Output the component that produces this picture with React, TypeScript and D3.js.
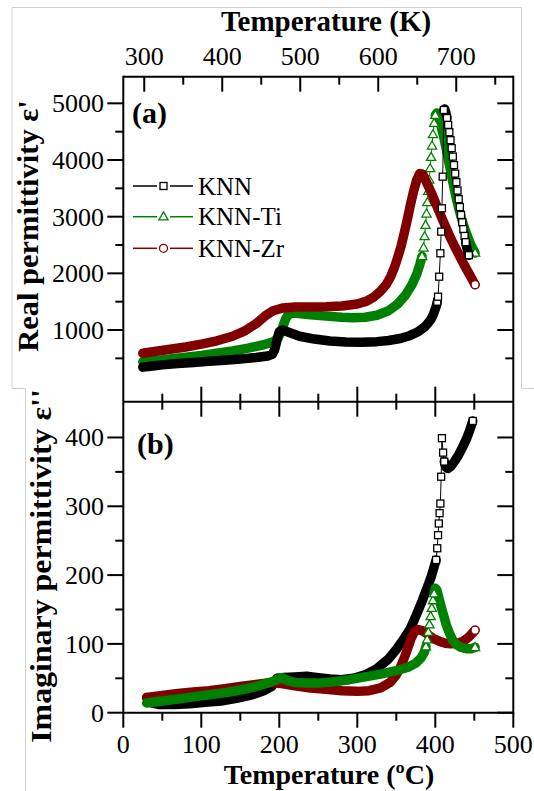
import React from 'react';
import * as d3 from 'd3';

// ---------- data (temperature in °C, permittivity) ----------
const tempTicksC = [0, 100, 200, 300, 400, 500];
const tempTicksK = [300, 400, 500, 600, 700];
const realTicks = [1000, 2000, 3000, 4000, 5000];
const imagTicks = [0, 100, 200, 300, 400];
const seriesNames = ['KNN', 'KNN-Ti', 'KNN-Zr'];

const knnReal: [number, number][] = [
  [25, 345], [35, 362], [50, 385], [70, 408], [90, 428], [110, 448], [130, 468], [150, 490], [170, 515], [185, 540],
  [191, 570], [194, 650], [196, 760], [198, 880], [200, 970], [204, 1000], [212, 960], [226, 890], [245, 840], [265, 805],
  [285, 790], [305, 785], [325, 795], [340, 815], [355, 850], [367, 900], [378, 970], [386, 1050], [390, 1110], [394, 1180],
  [397, 1260], [399, 1330], [401, 1410], [402.5, 1500], [403.5, 1588], [405, 1941], [406.5, 2354], [407.5, 2736], [408.5, 3148], [409.5, 3706],
  [411, 4883], [412, 4900], [413.5, 4840], [415, 4740], [416.5, 4620], [418, 4490], [419.5, 4350], [421, 4210], [422.5, 4060], [424, 3910],
  [425.5, 3760], [427, 3610], [428.5, 3460], [430, 3310], [431.5, 3170], [433, 3030], [434.5, 2900], [436, 2780], [437.5, 2660], [439, 2550],
  [440.5, 2450], [442, 2360], [443, 2320],
];

const tiReal: [number, number][] = [
  [25, 440], [40, 460], [60, 490], [80, 520], [100, 550], [120, 590], [140, 630], [160, 680], [180, 740], [192, 790],
  [198, 850], [202, 960], [205, 1080], [208, 1190], [211, 1260], [216, 1300], [225, 1290], [240, 1270], [260, 1245], [280, 1225],
  [295, 1215], [310, 1225], [325, 1260], [340, 1340], [352, 1460], [362, 1620], [370, 1800], [376, 1980], [380, 2150], [383, 2300],
  [385, 2450], [386.3, 2650], [387.5, 2850], [388.7, 3050], [389.8, 3250], [391, 3450], [392.2, 3650], [393.4, 3850], [394.6, 4050], [395.8, 4250],
  [397, 4450], [398.5, 4650], [400, 4790], [402, 4830], [404, 4760], [407, 4620], [410, 4450], [414, 4200], [418, 3920], [422, 3640],
  [426, 3380], [430, 3150], [434, 2950], [438, 2780], [442, 2630], [446, 2490], [451, 2360],
];

const zrReal: [number, number][] = [
  [25, 590], [40, 620], [60, 660], [80, 700], [100, 750], [120, 810], [140, 890], [155, 980], [170, 1110], [182, 1250],
  [192, 1340], [205, 1390], [220, 1405], [240, 1405], [260, 1410], [280, 1425], [300, 1460], [312, 1510], [322, 1590], [330, 1690],
  [337, 1800], [343, 1950], [348, 2118], [352, 2290], [356, 2470], [360, 2700], [364, 2941], [368, 3200], [372, 3440], [376, 3640],
  [380, 3760], [384, 3750], [389, 3600], [395, 3420], [401, 3220], [407, 3020], [413, 2830], [419, 2640], [425, 2470], [431, 2310],
  [437, 2150], [443, 2000], [447, 1900], [451, 1800],
];

const knnImag: [number, number][] = [
  [30, 22], [34, 15], [45, 12], [65, 12], [85, 13], [105, 15], [125, 17], [145, 21], [165, 26], [180, 32],
  [190, 38], [194, 44], [197, 50], [205, 51], [220, 52], [235, 53], [250, 51], [265, 49], [280, 48], [295, 50],
  [310, 55], [325, 64], [340, 78], [350, 92], [360, 108], [368, 122], [376, 143], [383, 162], [389, 180], [394, 195],
  [398, 210], [401, 222], [402.5, 239], [403.5, 258], [404.5, 275], [405.5, 290], [406.5, 304], [407.5, 343], [408.5, 399], [410, 378],
  [411.5, 365], [413.5, 357], [416, 355], [420, 358], [425, 366], [430, 375], [435, 386], [440, 398], [444, 410], [448, 424],
];

const tiImag: [number, number][] = [
  [30, 14], [50, 17], [70, 20], [90, 23], [110, 26], [130, 29], [150, 33], [170, 38], [185, 43], [195, 47],
  [203, 51], [210, 47], [220, 44], [235, 43], [250, 43], [270, 45], [290, 48], [310, 52], [330, 56], [350, 61],
  [365, 66], [375, 72], [382, 80], [386, 88], [388, 96], [389.5, 106], [391, 117], [392.5, 128], [394, 140], [395.5, 152],
  [397, 163], [398.5, 173], [400, 181], [402, 178], [405, 165], [408, 152], [411, 140], [414, 128], [418, 116], [422, 106],
  [427, 99], [433, 95], [440, 93], [446, 93], [451, 95],
];

const zrImag: [number, number][] = [
  [30, 22], [50, 25], [70, 28], [90, 30], [110, 32], [130, 35], [150, 38], [170, 41], [190, 44], [205, 42],
  [220, 39], [240, 36], [260, 34], [280, 32], [300, 31], [315, 32], [330, 36], [342, 44], [350, 55], [356, 68],
  [361, 82], [365, 95], [369, 108], [373, 117], [378, 121], [384, 119], [390, 114], [397, 108], [405, 104], [413, 101],
  [420, 100], [428, 101], [436, 104], [443, 110], [448, 116], [451, 120],
];

// ---------- styling ----------
const FONT = "'Liberation Serif', 'Times New Roman', 'DejaVu Serif', serif";
const BLACK = '#000000';
const GREEN = '#008000';
const RED = '#800000';
const FRAME = '#d0d0d0';

type Shape = 'square' | 'triangle' | 'circle';

function Marker({ cx, cy, shape, color }: { cx: number; cy: number; shape: Shape; color: string }) {
  const sw = 1.3;
  if (shape === 'square') return <rect x={cx - 3.5} y={cy - 3.5} width={7} height={7} fill="white" stroke={color} strokeWidth={sw} />;
  if (shape === 'triangle') return <path d={`M${cx},${cy - 4.8} L${cx + 4.6},${cy + 3.2} L${cx - 4.6},${cy + 3.2} Z`} fill="white" stroke={color} strokeWidth={sw} />;
  return <circle cx={cx} cy={cy} r={4} fill="white" stroke={color} strokeWidth={sw} />;
}

function Series({ data, xs, ys, color, shape }: { data: [number, number][]; xs: d3.ScaleLinear<number, number>; ys: d3.ScaleLinear<number, number>; color: string; shape: Shape }) {
  const pts: [number, number][] = data.map(d => [xs(d[0]), ys(d[1])]);
  const dense: boolean[] = [];
  for (let i = 0; i < data.length - 1; i++) {
    const slope = Math.abs(pts[i + 1][1] - pts[i][1]) / Math.max(1e-6, data[i + 1][0] - data[i][0]);
    dense.push(slope < 4);
  }
  const bands: [number, number][][] = [];
  let cur: [number, number][] | null = null;
  for (let i = 0; i < dense.length; i++) {
    if (dense[i]) {
      if (!cur) cur = [pts[i]];
      cur.push(pts[i + 1]);
    } else if (cur) {
      bands.push(cur);
      cur = null;
    }
  }
  if (cur) bands.push(cur);
  const markers: [number, number][] = [];
  for (let i = 0; i < pts.length; i++) {
    const prevThin = i > 0 && !dense[i - 1];
    const nextThin = i < dense.length && !dense[i];
    if (prevThin || nextThin || i === pts.length - 1) markers.push(pts[i]);
  }
  const line = d3.line();
  return (
    <g>
      <path d={line(pts) || ''} fill="none" stroke={color} strokeWidth={1} />
      {bands.map((b, i) => (
        <path key={i} d={line(b) || ''} fill="none" stroke={color} strokeWidth={9.5} strokeLinecap="round" strokeLinejoin="round" />
      ))}
      {markers.map((p, i) => <Marker key={i} cx={p[0]} cy={p[1]} shape={shape} color={color} />)}
    </g>
  );
}

export default function App() {
  const W = 534, H = 791;
  const L = 123.3, R = 513.3;
  const topA = 76.7, mid = 401.7, botB = 712.7;
  const x = d3.scaleLinear().domain([0, 500]).range([L, R]);
  const yR = d3.scaleLinear().domain([-265, 5470]).range([mid, topA]);
  const yI = d3.scaleLinear().domain([0, 452]).range([botB, mid]);

  const axisW = 2;
  const MAJ = 15, MIN = 8;
  const tickC = d3.range(50, 500, 50);
  const tickCAll = d3.range(0, 501, 50);
  const tickK = d3.range(300, 751, 50);
  const tickReal = d3.range(500, 5001, 500);
  const tickImag = d3.range(0, 401, 50);

  const legendRows = [
    { name: seriesNames[0], color: BLACK, shape: 'square' as Shape, y: 186 },
    { name: seriesNames[1], color: GREEN, shape: 'triangle' as Shape, y: 216.7 },
    { name: seriesNames[2], color: RED, shape: 'circle' as Shape, y: 248.3 },
  ];

  return (
    <svg width={W} height={H} style={{ position: 'absolute', left: 0, top: 0, background: 'white', fontFamily: FONT }}>
      <rect x={0} y={0} width={W} height={H} fill="white" />
      {/* image frames */}
      <path d={`M12,388.5 L12,7.5 L521.5,7.5 L521.5,388.5`} fill="none" stroke={FRAME} strokeWidth={1} />
      <path d={`M12,388.5 L25.5,388.5 L25.5,791`} fill="none" stroke={FRAME} strokeWidth={1} />
      <path d={`M521.5,388.5 L534,388.5`} fill="none" stroke={FRAME} strokeWidth={1} />

      {/* series: top */}
      <Series data={tiReal} xs={x} ys={yR} color={GREEN} shape="triangle" />
      <Series data={zrReal} xs={x} ys={yR} color={RED} shape="circle" />
      <Series data={knnReal} xs={x} ys={yR} color={BLACK} shape="square" />
      {/* series: bottom */}
      <Series data={knnImag} xs={x} ys={yI} color={BLACK} shape="square" />
      <Series data={zrImag} xs={x} ys={yI} color={RED} shape="circle" />
      <Series data={tiImag} xs={x} ys={yI} color={GREEN} shape="triangle" />

      {/* axes frame */}
      <g stroke="black" strokeWidth={axisW} fill="none">
        <line x1={L} y1={topA} x2={R} y2={topA} />
        <line x1={L} y1={mid} x2={R} y2={mid} />
        <line x1={L} y1={botB} x2={R} y2={botB} />
        <line x1={L} y1={topA - 1} x2={L} y2={botB + 1} />
        <line x1={R} y1={topA - 1} x2={R} y2={botB + 1} />
        {tickK.map(k => {
          const len = k % 100 === 0 ? MAJ : MIN;
          const px = x(k - 273.15);
          return <line key={'k' + k} x1={px} y1={topA} x2={px} y2={topA + len} />;
        })}
        {tickC.map(c => {
          const len = c % 100 === 0 ? MAJ : MIN;
          return <line key={'m' + c} x1={x(c)} y1={mid - len} x2={x(c)} y2={mid + len} />;
        })}
        {tickCAll.map(c => {
          const len = c % 100 === 0 ? MAJ : MIN;
          return <line key={'b' + c} x1={x(c)} y1={botB} x2={x(c)} y2={botB + len} />;
        })}
        {tickReal.map(v => {
          const len = v % 1000 === 0 ? 16 : MIN;
          return (
            <g key={'r' + v}>
              <line x1={L - len} y1={yR(v)} x2={L} y2={yR(v)} />
              <line x1={R - len} y1={yR(v)} x2={R} y2={yR(v)} />
            </g>
          );
        })}
        {tickImag.map(v => {
          const len = v % 100 === 0 ? 16 : MIN;
          return (
            <g key={'i' + v}>
              <line x1={L - len} y1={yI(v)} x2={L} y2={yI(v)} />
              <line x1={R - len} y1={yI(v)} x2={R} y2={yI(v)} />
            </g>
          );
        })}
      </g>

      {/* tick labels */}
      <g fontSize={26} fill="black" style={{ fontFamily: FONT }}>
        {tempTicksK.map(k => (
          <text key={'kl' + k} x={x(k - 273.15)} y={65} textAnchor="middle">{k}</text>
        ))}
        {tempTicksC.map(c => (
          <text key={'cl' + c} x={x(c)} y={753} textAnchor="middle">{c}</text>
        ))}
        {realTicks.map(v => (
          <text key={'rl' + v} x={104} y={yR(v) + 9} textAnchor="end">{v}</text>
        ))}
        {imagTicks.map(v => (
          <text key={'il' + v} x={104} y={yI(v) + 9} textAnchor="end">{v}</text>
        ))}
      </g>

      {/* titles */}
      <g fontSize={29} fontWeight="bold" fill="black" style={{ fontFamily: FONT }}>
        <text x={326} y={31} textAnchor="middle">Temperature (K)</text>
        <text x={329} y={784} textAnchor="middle" fontSize={28}>Temperature (ºC)</text>
        <text transform="translate(38,226) rotate(-90) scale(1.05,1)" textAnchor="middle">Real permittivity ε'</text>
        <text transform="translate(51,566) rotate(-90) scale(1.1,1)" textAnchor="middle">Imaginary permittivity ε''</text>
      </g>
      <g fontSize={30} fontWeight="bold" fill="black" style={{ fontFamily: FONT }}>
        <text x={132} y={123}>(a)</text>
        <text x={137} y={454}>(b)</text>
      </g>

      {/* legend */}
      {legendRows.map(r => (
        <g key={r.name}>
          <line x1={133} y1={r.y} x2={157} y2={r.y} stroke={r.color} strokeWidth={1.5} />
          <line x1={170} y1={r.y} x2={193} y2={r.y} stroke={r.color} strokeWidth={1.5} />
          <Marker cx={163.5} cy={r.y} shape={r.shape} color={r.color} />
          <text x={198} y={r.y + 8.5} fontSize={25} fill="black" style={{ fontFamily: FONT }}>{r.name}</text>
        </g>
      ))}
    </svg>
  );
}
